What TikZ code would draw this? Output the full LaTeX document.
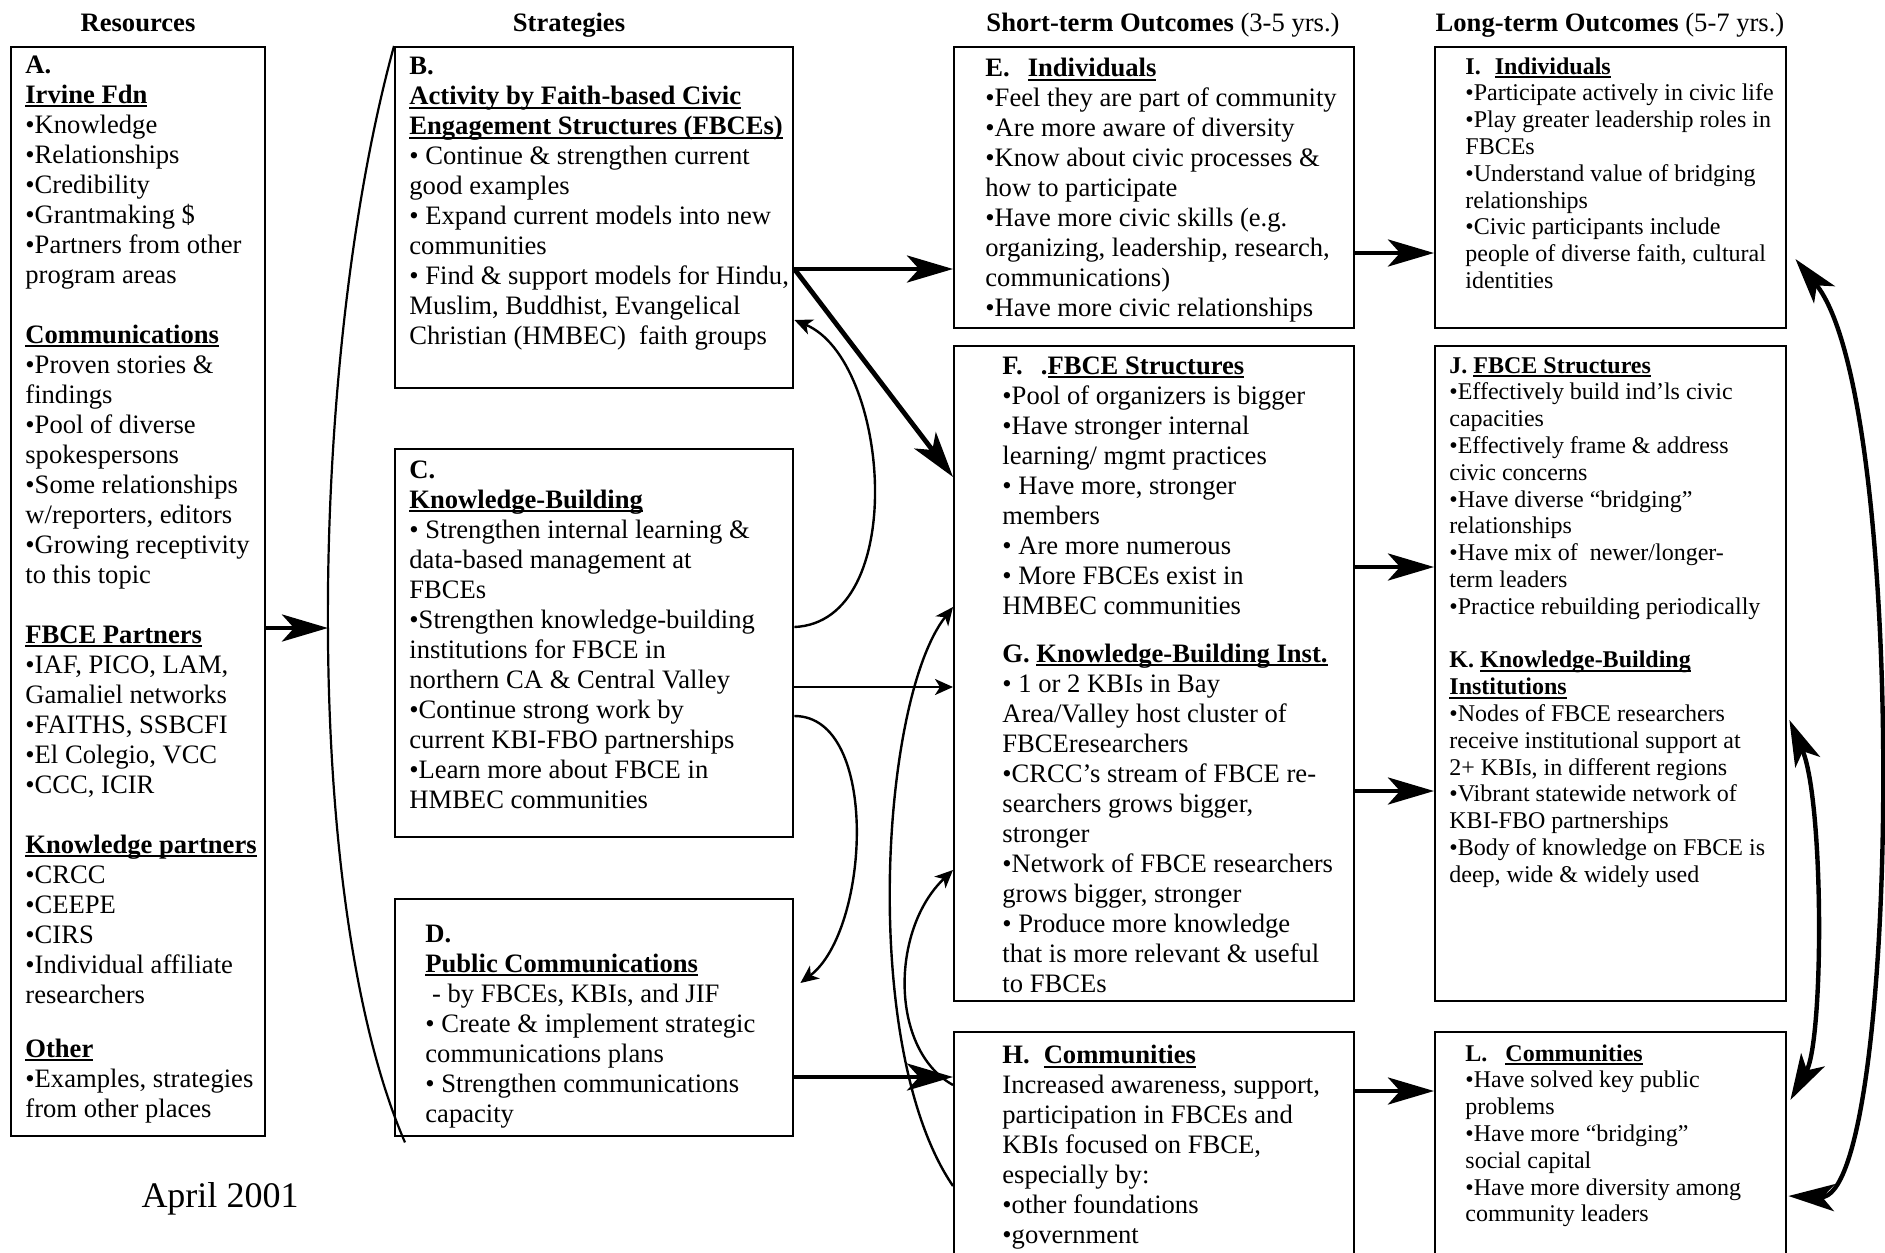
\documentclass[tikz,border=0pt]{standalone}
\usepackage{fontspec}
\setmainfont{Liberation Serif}
\usetikzlibrary{arrows.meta}

\newcommand{\ulhead}[1]{\setbox0=\hbox{\bfseries #1}\rlap{\rule[-2pt]{\wd0}{1pt}}\box0}

\tikzset{
	frame/.style={draw, line width=1.2pt, anchor=north west, inner sep=0pt},
	body/.style={anchor=north west, inner sep=0pt, align=left, font=\fontsize{13.3}{15}\selectfont},
	bodysm/.style={body, font=\fontsize{12}{13.4}\selectfont},
	colhead/.style={anchor=base, font=\fontsize{13.3}{15}\selectfont},
	fat/.style={line width=2.4pt, -{Stealth[length=23pt,width=13.5pt,inset=6pt]}},
	fatboth/.style={line width=2.2pt, {Stealth[length=23pt,width=13.5pt,inset=6pt]}-{Stealth[length=23pt,width=13.5pt,inset=6pt]}},
	slim/.style={line width=1.2pt, -{Stealth[length=9pt,width=8pt,inset=2.5pt]}},
}

\begin{document}
\begin{tikzpicture}[x=0.5pt, y=-0.5pt]
		\useasboundingbox (0,0) rectangle (1885,1253);
		\node[colhead] (hRes) at (138,31) {\textbf{Resources}};
		\node[colhead] (hStr) at (569,31) {\textbf{Strategies}};
		\node[colhead] (hShort) at (1163,31) {\textbf{Short-term Outcomes} (3-5 yrs.)};
		\node[colhead] (hLong) at (1610,31) {\textbf{Long-term Outcomes} (5-7 yrs.)};

		\node[frame, minimum width=127pt, minimum height=544.5pt] (A) at (10,46) {};
		\node[frame, minimum width=199pt, minimum height=170.5pt] (B) at (394,46) {};
		\node[frame, minimum width=199pt, minimum height=194pt] (C) at (394,448) {};
		\node[frame, minimum width=199pt, minimum height=118.5pt] (D) at (394,898) {};
		\node[frame, minimum width=200pt, minimum height=140.5pt] (E) at (953,46) {};
		\node[frame, minimum width=200pt, minimum height=327.5pt] (FG) at (953,345) {};
		\node[frame, minimum width=200pt, minimum height=125pt] (H) at (953,1031) {};
		\node[frame, minimum width=175.5pt, minimum height=140.5pt] (I) at (1434,46) {};
		\node[frame, minimum width=175.5pt, minimum height=327.5pt] (JK) at (1434,345) {};
		\node[frame, minimum width=175.5pt, minimum height=125pt] (L) at (1434,1031) {};

		\node[body] (At) at ([shift={(7.5pt,-4.7pt)}]A.north west) {\textbf{A.}\\
			\ulhead{Irvine Fdn}\\ •Knowledge\\ •Relationships\\ •Credibility\\ •Grantmaking \$\\
			•Partners from other\\ program areas\\[15pt]
			\ulhead{Communications}\\ •Proven stories \&\\ findings\\ •Pool of diverse\\ spokespersons\\
			•Some relationships\\ w/reporters, editors\\ •Growing receptivity\\ to this topic\\[15pt]
			\ulhead{FBCE Partners}\\ •IAF, PICO, LAM,\\ Gamaliel networks\\ •FAITHS, SSBCFI\\
			•El Colegio, VCC\\ •CCC, ICIR\\[15pt]
			\ulhead{Knowledge partners}\\ •CRCC\\ •CEEPE\\ •CIRS\\ •Individual affiliate\\ researchers\\[12pt]
			\ulhead{Other}\\ •Examples, strategies\\ from other places};

		\node[body] (Bt) at ([shift={(7.5pt,-5.5pt)}]B.north west) {\textbf{B.}\\
			\ulhead{Activity by Faith-based Civic}\\ \ulhead{Engagement Structures (FBCEs)}\\
			• Continue \& strengthen current\\ good examples\\
			• Expand current models into new\\ communities\\
			• Find \& support models for Hindu,\\ Muslim, Buddhist, Evangelical\\
			Christian (HMBEC)\ \ faith groups};

		\node[body] (Ct) at ([shift={(7.5pt,-6pt)}]C.north west) {\textbf{C.}\\
			\ulhead{Knowledge-Building}\\
			• Strengthen internal learning \&\\ data-based management at\\ FBCEs\\
			•Strengthen knowledge-building\\ institutions for FBCE in\\ northern CA \& Central Valley\\
			•Continue strong work by\\ current KBI-FBO partnerships\\
			•Learn more about FBCE in\\ HMBEC communities};

		\node[body] (Dt) at ([shift={(15.5pt,-13.3pt)}]D.north west) {\textbf{D.}\\
			\ulhead{Public Communications}\\
			\ - by FBCEs, KBIs, and JIF\\
			• Create \& implement strategic\\ communications plans\\
			• Strengthen communications\\ capacity};

		\node[body] (Et) at ([shift={(16pt,-5.9pt)}]E.north west) {\textbf{E.}\hspace{9pt}\ulhead{Individuals}\\
			•Feel they are part of community\\ •Are more aware of diversity\\
			•Know about civic processes \&\\ how to participate\\
			•Have more civic skills (e.g.\\ organizing, leadership, research,\\ communications)\\
			•Have more civic relationships};

		\node[body] (FGt) at ([shift={(24.5pt,-5.7pt)}]FG.north west) {\textbf{F.}\hspace{9pt}\textbf{.}\ulhead{FBCE Structures}\\
			•Pool of organizers is bigger\\ •Have stronger internal\\ learning/ mgmt practices\\
			• Have more, stronger\\ members\\ • Are more numerous\\
			• More FBCEs exist in\\ HMBEC communities\\[9pt]
			\textbf{G.} \ulhead{Knowledge-Building Inst.}\\
			• 1 or 2 KBIs in Bay\\ Area/Valley host cluster of\\ FBCEresearchers\\
			•CRCC’s stream of FBCE re-\\ searchers grows bigger,\\ stronger\\
			•Network of FBCE researchers\\ grows bigger, stronger\\
			• Produce more knowledge\\ that is more relevant \& useful\\ to FBCEs};

		\node[body] (Ht) at ([shift={(24.5pt,-6.9pt)}]H.north west) {\textbf{H.}\hspace{7pt}\ulhead{Communities}\\
			Increased awareness, support,\\ participation in FBCEs and\\ KBIs focused on FBCE,\\
			especially by:\\ •other foundations\\ •government};

		\node[bodysm] (It) at ([shift={(15.5pt,-5.5pt)}]I.north west) {\textbf{I.}\hspace{7pt}\ulhead{Individuals}\\
			•Participate actively in civic life\\ •Play greater leadership roles in\\ FBCEs\\
			•Understand value of bridging\\ relationships\\
			•Civic participants include\\ people of diverse faith, cultural\\ identities};

		\node[bodysm] (JKt) at ([shift={(7.5pt,-5.9pt)}]JK.north west) {\textbf{J.} \ulhead{FBCE Structures}\\
			•Effectively build ind’ls civic\\ capacities\\
			•Effectively frame \& address\\ civic concerns\\
			•Have diverse “bridging”\\ relationships\\
			•Have mix of\ \ newer/longer-\\ term leaders\\
			•Practice rebuilding periodically\\[13.4pt]
			\textbf{K.} \ulhead{Knowledge-Building}\\ \ulhead{Institutions}\\
			•Nodes of FBCE researchers\\ receive institutional support at\\ 2+ KBIs, in different regions\\
			•Vibrant statewide network of\\ KBI-FBO partnerships\\
			•Body of knowledge on FBCE is\\ deep, wide \& widely used};

		\node[bodysm] (Lt) at ([shift={(15.5pt,-6.5pt)}]L.north west) {\textbf{L.}\hspace{9pt}\ulhead{Communities}\\
			•Have solved key public\\ problems\\
			•Have more “bridging”\\ social capital\\
			•Have more diversity among\\ community leaders};

		\node[anchor=base, font=\fontsize{18}{20}\selectfont] (date) at (220,1207) {April 2001};

		\coordinate (brk) at (328,628);
		\draw[line width=1.1pt] (B.north west) .. controls (308,360) and (300,900) .. ([shift={(5.5pt,-2.5pt)}]D.south west);
		\draw[fat] ([yshift=-291pt]A.north east) -- (brk);

		\draw[fat] ([yshift=-111.5pt]B.north east) -- ([yshift=-111.5pt]E.north west);
		\draw[fat] ([yshift=-111.5pt]B.north east) -- ([yshift=-66pt]FG.north west);
		\draw[slim] ([yshift=-89.5pt]C.north east) .. controls (910,622) and (890,360) .. ([yshift=-137pt]B.north east);
		\draw[slim] ([yshift=-119.5pt]C.north east) -- ([yshift=-171pt]FG.north west);
		\draw[slim] ([yshift=-134pt]C.north east) .. controls (880,716) and (870,930) .. ([shift={(3pt,-42.5pt)}]D.north east);
		\draw[fat] ([yshift=-89.5pt]D.north east) -- ([yshift=-23pt]H.north west);
		\draw[slim] ([yshift=-77.5pt]H.north west) .. controls (860,1050) and (880,700) .. ([yshift=-131pt]FG.north west);
		\draw[slim] ([yshift=-27pt]H.north west) .. controls (890,1050) and (890,930) .. ([yshift=-262.5pt]FG.north west);

		\draw[fat] ([yshift=-103.5pt]E.north east) -- ([yshift=-103.5pt]I.north west);
		\draw[fat] ([yshift=-111pt]FG.north east) -- ([yshift=-111pt]JK.north west);
		\draw[fat] ([yshift=-223pt]FG.north east) -- ([yshift=-223pt]JK.north west);
		\draw[fat] ([yshift=-30pt]H.north east) -- ([yshift=-30pt]L.north west);

		\draw[fatboth] ([shift={(4pt,-106.5pt)}]I.north east) .. controls (1910,400) and (1900,1200) .. ([shift={(0.5pt,-82.5pt)}]L.north east);
		\draw[fatboth] ([shift={(1pt,-187.5pt)}]JK.north east) .. controls (1824,800) and (1824,1040) .. ([shift={(1.5pt,-34.5pt)}]L.north east);
\end{tikzpicture}
\end{document}
